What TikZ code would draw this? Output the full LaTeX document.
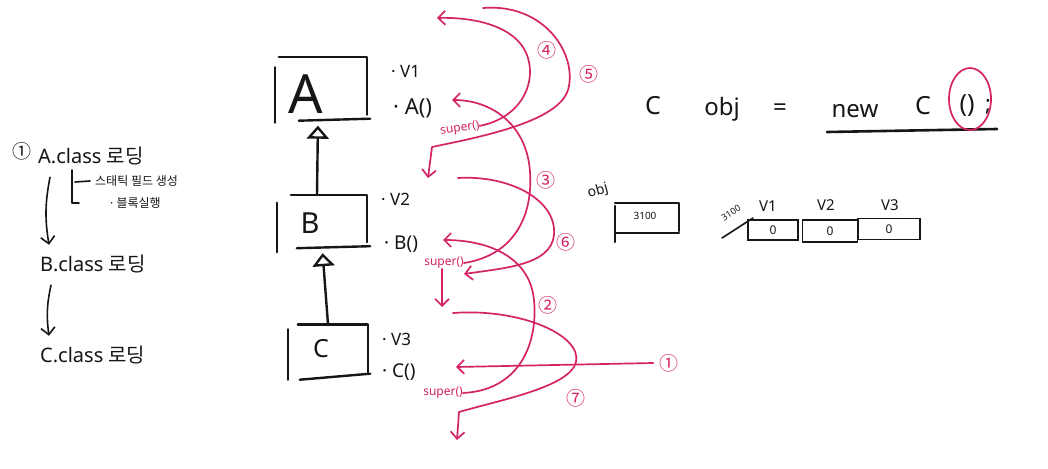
\documentclass[tikz,border=0pt]{standalone}
\usepackage{fontspec}
\setmainfont{Noto Sans}
\newfontfamily\kr{Noto Sans CJK KR}
\usetikzlibrary{arrows.meta}
\definecolor{mag}{RGB}{212,36,102}
\definecolor{inkc}{RGB}{22,22,22}
\newcommand{\fs}[1]{\fontsize{#1}{#1}\selectfont}
\tikzset{
  ink/.style={draw=inkc, line width=2.4pt, line cap=round, line join=round},
  inkthin/.style={draw=inkc, line width=1.6pt, line cap=round, line join=round},
  inkarrow/.style={inkthin, -{Straight Barb[length=7pt,width=14pt]}},
  pk/.style={draw=mag, line width=1.7pt, line cap=round, line join=round},
  pkarrow/.style={pk, -{Straight Barb[length=7pt,width=14pt]}},
  t/.style={inner sep=0pt, anchor=west, text=inkc},
  num/.style={inner sep=0pt, text=mag, font=\kr\fs{19}},
  sup/.style={inner sep=0pt, text=mag, font=\fs{12}},
  cls/.style={inner sep=0pt, draw=none},
  inh/.style={ink, -{Triangle[open, length=13pt, width=22pt]}},
  mem/.style={draw=inkc, line width=1.9pt, inner sep=0pt, font=\fs{12}, text=inkc},
}
\begin{document}
\begin{tikzpicture}[x=1pt,y=-1pt]
\useasboundingbox[fill=white] (0,0) rectangle (1048,468);

% ---------- left: loading order ----------
\node[inner sep=0pt, text=inkc, font=\kr\fs{19}] (c1) at (22,151) {①};
\node[t, font=\fs{20}] (lA) at (38,156) {A.class {\kr 로딩}};
\node[t, font=\kr\fs{12}] (s1) at (95,181) {스태틱 필드 생성};
\node[t, font=\fs{12}] (s2) at (110,203) {· {\kr 블록실행}};
\draw[inkthin] (72,170) -- (72,203) -- (79,203);
\draw[inkthin] (75,182) -- ([xshift=-5pt]s1.west);
\node[t, font=\fs{20}] (lB) at (40,264) {B.class {\kr 로딩}};
\node[t, font=\fs{20}] (lC) at (40,355) {C.class {\kr 로딩}};
\draw[inkarrow] ([xshift=12pt,yshift=-12pt]lA.south west) to[bend right=10] ([xshift=9pt,yshift=10pt]lB.north west);
\draw[inkarrow] ([xshift=11pt,yshift=-12pt]lB.south west) to[bend right=10] ([xshift=9pt,yshift=10pt]lC.north west);

% ---------- class boxes ----------
\node[cls, minimum width=92pt, minimum height=61pt] (A) at (321,88) {};
\node[inner sep=0pt, text=inkc, font=\fs{54}] (An) at (306,94) {A};
\draw[ink] ([yshift=-10pt]A.north west) -- ([yshift=-4pt]A.south west);
\draw[ink] ([xshift=4pt]A.north west) -- (A.north east) -- ([yshift=4pt]A.south east);
\draw[ink] ([xshift=24pt,yshift=-2pt]A.south west) -- ([xshift=3pt]A.south east);

\node[cls, minimum width=90pt, minimum height=50pt] (B) at (322,220) {};
\node[inner sep=0pt, text=inkc, font=\fs{29}] (Bn) at (310,223) {B};
\draw[ink] ([yshift=-8pt]B.north west) -- ([yshift=-7pt]B.south west);
\draw[ink] ([xshift=14pt]B.north west) -- (B.north east) -- ([yshift=3pt]B.south east);
\draw[ink] ([xshift=20pt,yshift=-3pt]B.south west) -- ([xshift=3pt,yshift=-1pt]B.south east);

\node[cls, minimum width=80pt, minimum height=51pt] (C) at (328,350) {};
\node[inner sep=0pt, text=inkc, font=\fs{25}] (Cn) at (321,349) {C};
\draw[ink] ([yshift=-5pt]C.north west) -- ([yshift=-4pt]C.south west);
\draw[ink] ([xshift=10pt]C.north west) -- (C.north east) -- ([yshift=3pt]C.south east);
\draw[ink] ([xshift=12pt,yshift=-4pt]C.south west) -- ([xshift=2pt,yshift=2pt]C.south east);

\draw[inh, shorten >=7pt] ([xshift=-5pt]B.north) -- ([xshift=-3pt]A.south);
\draw[inh, shorten >=8pt] (C.north) -- (B.south);

% ---------- members ----------
\node[t, font=\fs{17}] (v1) at (391,71) {· V1};
\node[t, font=\fs{22}] (Am) at (393,108) {· A()};
\node[t, font=\fs{17}] (v2) at (381,199) {· V2};
\node[t, font=\fs{19}] (Bm) at (384,244) {· B()};
\node[t, font=\fs{17}] (v3) at (382,339) {· V3};
\node[t, font=\fs{19}] (Cm) at (382,372) {· C()};

\node[sup, rotate=9] (supA) at (460,129) {super()};
\node[sup] (supB) at (444,263) {super()};
\node[sup] (supC) at (443,393) {super()};

% ---------- step numbers ----------
\node[num] (n1) at (669,363) {①};
\node[num] (n2) at (548,305) {②};
\node[num] (n3) at (546,180) {③};
\node[num] (n4) at (547,50) {④};
\node[num] (n5) at (589,74) {⑤};
\node[num] (n6) at (566,242) {⑥};
\node[num] (n7) at (576,398) {⑦};

% ---------- connector end points ----------
\coordinate (Ain) at (452,100);
\coordinate (Bin) at (443,240);
\coordinate (Cin) at (456,367);
\coordinate (top1) at (437,18);
\coordinate (top2) at (483,8);
\coordinate (ret5) at (428,178);
\coordinate (s6) at (458,178);
\coordinate (e6) at (464,274);
\coordinate (d6) at (442,307);
\coordinate (s7) at (453,313);
\coordinate (e7) at (457,440);

% ---------- call / return arrows ----------
\draw[pkarrow] ([xshift=-6pt]n1.west) -- (Cin);
\draw[pkarrow] (supC.east) .. controls (522,390) and (538,340) .. (534,300) .. controls (530,258) and (490,240) .. (Bin);
\draw[pkarrow] (supB.east) .. controls (515,255) and (533,215) .. (530,172) .. controls (527,125) and (492,100) .. (Ain);
\draw[pkarrow] (supA.east) .. controls (520,118) and (536,85) .. (528,58) .. controls (518,25) and (472,17) .. (top1);
\draw[pkarrow] (top2) .. controls (545,3) and (578,55) .. (568,90) .. controls (558,122) and (480,137) .. (432,147) -- (ret5);
\draw[pkarrow] (s6) .. controls (510,175) and (557,200) .. (554,235) .. controls (551,265) and (505,268) .. (e6);
\draw[pkarrow] ([xshift=-2pt]supB.south) -- (d6);
\draw[pkarrow] (s7) .. controls (520,308) and (582,335) .. (576,362) .. controls (570,387) and (500,400) .. (459,412) -- (e7);

% ---------- statement ----------
\node[inner sep=0pt, text=inkc, font=\fs{25}] (eC) at (653,106) {C};
\node[inner sep=0pt, text=inkc, font=\fs{24}] (eobj) at (722,109) {obj};
\node[inner sep=0pt, text=inkc, font=\fs{24}] (eeq) at (780,110) {=};
\node[inner sep=0pt, text=inkc, font=\fs{24}] (enew) at (855,111) {new};
\node[inner sep=0pt, text=inkc, font=\fs{25}] (eC2) at (923,106) {C};
\node[inner sep=0pt, text=inkc, font=\fs{25}] (epar) at (967,106) {()};
\node[inner sep=0pt, text=inkc, font=\fs{22}] (esemi) at (988,107) {;};
\draw[ink, line width=2.6pt] (827,132) -- (997,129);
\draw[pk] (970,99) ellipse [x radius=21, y radius=31];

% ---------- memory ----------
\node[inner sep=0pt, text=inkc, font=\fs{14}, rotate=15] (objl) at (598,191) {obj};
\node[cls, minimum width=64pt, minimum height=30pt] (ob) at (647,218) {};
\node[inner sep=0pt, text=inkc, font=\fs{10}] (obv) at (645,216) {3100};
\draw[ink, line width=2pt] ([yshift=-3pt]ob.north west) -- ([yshift=-9pt]ob.south west);
\draw[ink, line width=2pt] (ob.north west) -- (ob.north east) -- ([yshift=2pt]ob.south east);
\draw[ink, line width=2pt] (ob.south west) -- (ob.south east);

\node[mem, minimum width=50pt, minimum height=20pt] (m1) at (773,230) {0};
\node[mem, minimum width=55pt, minimum height=22pt] (m2) at (830,231) {0};
\node[mem, minimum width=62pt, minimum height=21pt] (m3) at (889,229) {0};
\node[inner sep=0pt, text=inkc, font=\fs{15}] (l1) at (768,206) {V1};
\node[inner sep=0pt, text=inkc, font=\fs{15}] (l2) at (826,205) {V2};
\node[inner sep=0pt, text=inkc, font=\fs{15}] (l3) at (890,205) {V3};
\node[inner sep=0pt, text=inkc, font=\fs{9}, rotate=33] (addr) at (731,213) {3100};
\draw[inkthin] (722,238) -- (753,218);
\end{tikzpicture}
\end{document}
